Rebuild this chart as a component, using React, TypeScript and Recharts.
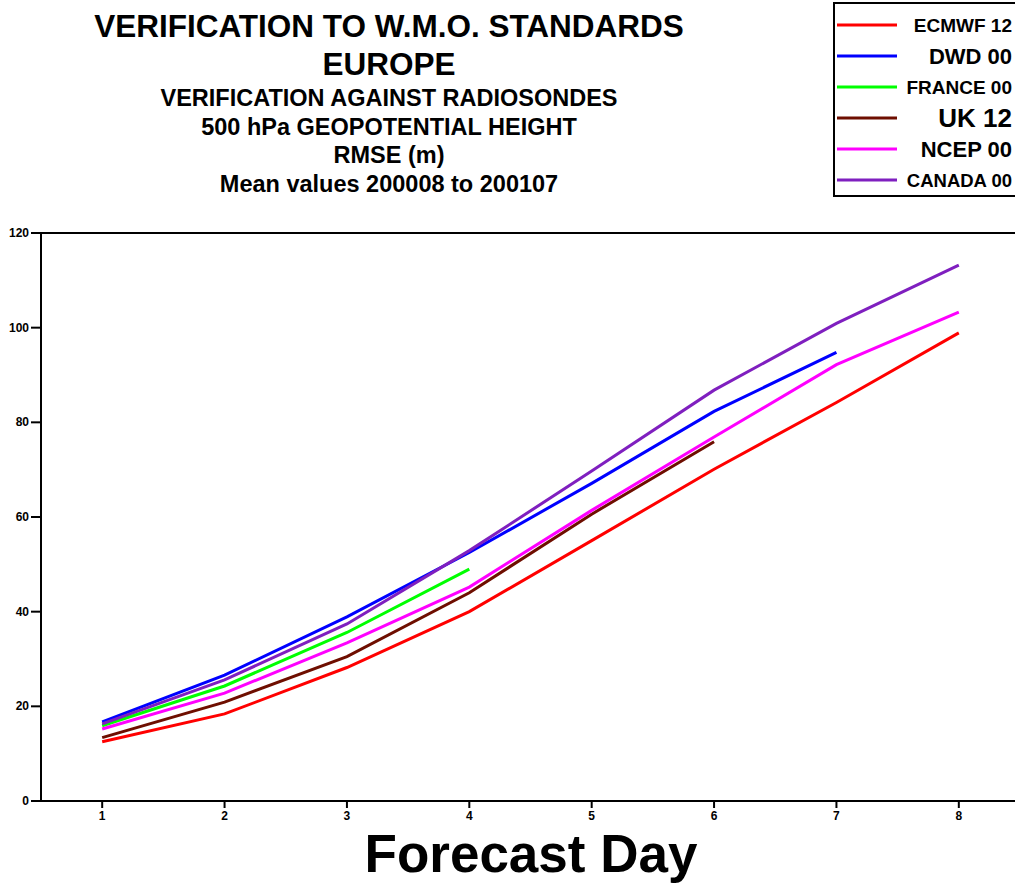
import React from 'react';
import { LineChart, Line, XAxis, YAxis, ReferenceLine } from 'recharts';

const days = [1, 2, 3, 4, 5, 6, 7, 8];

const ecmwf = [12.5, 18.4, 28.2, 40.0, 55.0, 70.1, 84.2, 98.9];
const dwd = [16.7, 26.6, 38.9, 52.5, 67.1, 82.3, 94.8];
const france = [15.9, 24.3, 35.6, 49.0];
const uk = [13.4, 20.9, 30.5, 44.0, 60.6, 75.9];
const ncep = [15.2, 22.8, 33.4, 45.2, 61.4, 76.9, 92.2, 103.3];
const canada = [16.3, 25.6, 37.4, 52.9, 69.7, 86.8, 100.9, 113.2];

const yTicks = [0, 20, 40, 60, 80, 100, 120];

const series = [
  { key: 'ecmwf', name: 'ECMWF 12', values: ecmwf, color: '#ff0000', size: 19 },
  { key: 'dwd', name: 'DWD 00', values: dwd, color: '#0000ff', size: 22 },
  { key: 'france', name: 'FRANCE 00', values: france, color: '#00ff00', size: 19 },
  { key: 'uk', name: 'UK 12', values: uk, color: '#6e0e00', size: 26 },
  { key: 'ncep', name: 'NCEP 00', values: ncep, color: '#ff00ff', size: 22 },
  { key: 'canada', name: 'CANADA 00', values: canada, color: '#7f1fbf', size: 18.5 },
];

const data = days.map((day, i) => {
  const row: Record<string, number | undefined> = { day };
  series.forEach((s) => {
    row[s.key] = s.values[i];
  });
  return row;
});

const FONT = '"Liberation Sans", Arial, Helvetica, sans-serif';

const titleLines = [
  { text: 'VERIFICATION TO W.M.O. STANDARDS', size: 31.5, y: 37 },
  { text: 'EUROPE', size: 31.5, y: 75 },
  { text: 'VERIFICATION AGAINST RADIOSONDES', size: 23.5, y: 106 },
  { text: '500 hPa GEOPOTENTIAL HEIGHT', size: 23.5, y: 135 },
  { text: 'RMSE (m)', size: 23.5, y: 163 },
  { text: 'Mean values 200008 to 200107', size: 23.5, y: 192 },
];

const legendRows = [25, 56, 87, 118, 149, 180];

// custom tick text so the font size actually sticks
const XTick = (props: any) => (
  <text x={props.x} y={props.y + 10} textAnchor="middle" fontFamily={FONT} fontSize={12} fontWeight={700} fill="#000">
    {props.payload.value}
  </text>
);

const YTick = (props: any) => (
  <text x={props.x - 1} y={props.y + 4} textAnchor="end" fontFamily={FONT} fontSize={12} fontWeight={700} fill="#000">
    {props.payload.value}
  </text>
);

const App: React.FC = () => {
  return (
    <div style={{ position: 'absolute', left: 0, top: 0, width: 1015, height: 883, overflow: 'hidden', background: '#fff' }}>
      <LineChart width={1020} height={883} data={data} margin={{ top: 233, right: 0, left: 0, bottom: 52 }}>
        <XAxis
          dataKey="day"
          type="number"
          domain={[0.5, 8.5]}
          ticks={days}
          height={30}
          stroke="#000"
          strokeWidth={2}
          tickSize={7}
          tickMargin={2}
          tick={<XTick />}
        />
        <YAxis
          type="number"
          domain={[0, 120]}
          ticks={yTicks}
          width={41}
          stroke="#000"
          strokeWidth={2}
          tickSize={10}
          tickMargin={1}
          tick={<YTick />}
        />
        <ReferenceLine y={120} stroke="#000" strokeWidth={2} />
        {series.map((s) => (
          <Line
            key={s.key}
            dataKey={s.key}
            name={s.name}
            stroke={s.color}
            strokeWidth={3}
            dot={false}
            type="linear"
            isAnimationActive={false}
          />
        ))}
      </LineChart>
      <svg width={1015} height={883} style={{ position: 'absolute', left: 0, top: 0, pointerEvents: 'none' }}>
        {titleLines.map((t) => (
          <text key={t.text} x={389} y={t.y} textAnchor="middle" fontFamily={FONT} fontWeight={700} fontSize={t.size} fill="#000">
            {t.text}
          </text>
        ))}
        <rect x={834} y={3} width={200} height={193} fill="#fff" stroke="#000" strokeWidth={2} />
        {series.map((s, i) => (
          <g key={s.key}>
            <line x1={837} x2={897} y1={legendRows[i]} y2={legendRows[i]} stroke={s.color} strokeWidth={3} />
            <text x={1012} y={legendRows[i] + s.size * 0.36} textAnchor="end" fontFamily={FONT} fontWeight={700} fontSize={s.size} fill="#000">
              {s.name}
            </text>
          </g>
        ))}
        <text x={531} y={872} textAnchor="middle" fontFamily={FONT} fontWeight={700} fontSize={53} fill="#000">
          Forecast Day
        </text>
      </svg>
    </div>
  );
};

export default App;
